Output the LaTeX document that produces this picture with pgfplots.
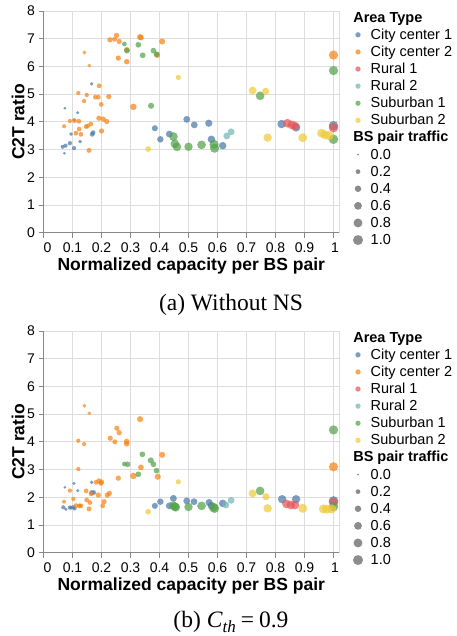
\documentclass[border=0pt]{standalone}
\usepackage{fontspec}
\setmainfont{Liberation Sans}
\newfontfamily\capfont{Liberation Serif}
\usepackage{pgfplots}
\pgfplotsset{compat=1.18}
\usepackage{pgfplotstable}

\definecolor{cA}{HTML}{4C78A8}
\definecolor{cB}{HTML}{F58518}
\definecolor{cC}{HTML}{E45756}
\definecolor{cD}{HTML}{72B7B2}
\definecolor{cE}{HTML}{54A24B}
\definecolor{cF}{HTML}{EECA3B}
\definecolor{gridc}{HTML}{DDDDDD}
\definecolor{axc}{HTML}{888888}
\definecolor{legc}{HTML}{8C8C8C}

% ---- (a) without NS ----
\pgfplotstableread{
x y t
0.066 3.10 0.13
0.076 3.14 0.15
0.091 3.23 0.15
0.105 3.05 0.15
0.072 2.87 0.05
0.095 3.56 0.12
0.126 3.29 0.12
0.168 3.55 0.20
0.171 3.61 0.20
0.074 4.49 0.05
0.118 4.33 0.08
0.105 4.07 0.08
0.166 5.37 0.10
0.384 3.77 0.35
0.403 3.37 0.40
0.434 3.56 0.45
0.494 4.09 0.45
0.520 3.89 0.45
0.570 3.95 0.50
0.579 3.37 0.55
0.618 3.14 0.55
0.821 3.92 0.70
0.871 3.80 0.70
1.000 3.86 0.90
}\aA
\pgfplotstableread{
x y t
0.229 6.96 0.25
0.252 7.12 0.25
0.245 6.98 0.22
0.261 6.90 0.25
0.333 7.06 0.35
0.336 7.04 0.30
0.409 6.90 0.35
0.287 6.60 0.30
0.141 6.50 0.12
0.258 6.30 0.25
0.287 6.17 0.28
0.392 6.41 0.35
0.158 6.03 0.12
0.192 5.30 0.20
0.120 5.04 0.15
0.149 4.97 0.15
0.140 4.75 0.15
0.179 4.89 0.20
0.189 4.89 0.20
0.225 4.91 0.25
0.199 4.63 0.20
0.310 4.54 0.40
0.091 4.03 0.15
0.107 4.04 0.20
0.122 4.02 0.20
0.191 4.13 0.25
0.206 4.10 0.25
0.218 4.01 0.25
0.071 3.84 0.13
0.123 3.74 0.20
0.147 3.83 0.20
0.152 3.85 0.20
0.163 3.92 0.20
0.112 3.59 0.20
0.129 3.55 0.20
0.200 3.67 0.25
0.157 2.97 0.22
1.000 6.41 0.85
}\aB
\pgfplotstableread{
x y t
0.841 3.95 0.75
0.856 3.89 0.75
0.867 3.85 0.75
1.000 3.79 0.90
}\aC
\pgfplotstableread{
x y t
0.632 3.49 0.45
0.647 3.64 0.45
}\aD
\pgfplotstableread{
x y t
0.279 6.81 0.20
0.288 6.57 0.30
0.327 6.78 0.30
0.342 6.40 0.30
0.379 6.57 0.30
0.390 6.44 0.30
0.371 4.58 0.35
0.448 3.47 0.75
0.453 3.21 0.75
0.460 3.10 0.75
0.500 3.10 0.70
0.545 3.17 0.75
0.588 3.19 0.85
0.590 3.05 0.85
0.747 4.94 0.75
1.000 5.85 0.85
1.000 3.37 0.90
}\aE
\pgfplotstableread{
x y t
0.465 5.60 0.25
0.361 3.02 0.30
0.721 5.13 0.60
0.766 5.10 0.50
0.773 3.43 0.70
0.894 3.43 0.80
0.959 3.59 0.80
0.971 3.53 0.80
0.985 3.50 0.80
}\aF

% ---- (b) C_th = 0.9 ----
\pgfplotstableread{
x y t
0.074 2.36 0.05
0.105 2.50 0.08
0.118 2.24 0.08
0.166 2.54 0.10
0.166 2.17 0.20
0.173 2.17 0.20
0.068 1.64 0.13
0.077 1.57 0.10
0.091 1.63 0.15
0.103 1.64 0.15
0.107 1.60 0.15
0.095 1.62 0.12
0.126 1.70 0.12
0.384 1.69 0.35
0.403 1.84 0.40
0.434 1.69 0.45
0.448 1.96 0.45
0.494 1.87 0.45
0.519 1.84 0.45
0.571 1.81 0.50
0.579 1.70 0.55
0.618 1.78 0.55
0.823 1.93 0.70
0.871 1.93 0.70
1.000 1.87 0.90
}\bA
\pgfplotstableread{
x y t
0.141 5.30 0.12
0.158 5.03 0.12
0.120 4.04 0.15
0.140 3.92 0.15
0.120 3.02 0.15
0.333 4.82 0.35
0.253 4.49 0.25
0.261 4.33 0.25
0.230 4.13 0.25
0.246 4.00 0.22
0.287 4.01 0.30
0.287 3.93 0.28
0.409 3.53 0.35
0.336 3.08 0.30
0.258 2.69 0.25
0.310 2.77 0.40
0.394 2.74 0.35
0.181 2.54 0.20
0.191 2.59 0.25
0.198 2.51 0.25
0.200 2.55 0.25
0.091 2.24 0.15
0.147 2.23 0.20
0.164 2.12 0.20
0.189 2.08 0.25
0.220 2.08 0.25
0.227 2.14 0.25
0.071 1.84 0.13
0.103 1.94 0.15
0.149 1.90 0.20
0.160 1.81 0.20
0.209 1.84 0.25
0.204 1.69 0.20
0.123 1.69 0.20
0.112 1.70 0.20
0.129 1.69 0.20
0.157 1.58 0.22
1.000 3.10 0.85
}\bB
\pgfplotstableread{
x y t
0.838 1.76 0.75
0.853 1.72 0.75
0.867 1.72 0.75
1.000 1.82 0.90
}\bC
\pgfplotstableread{
x y t
0.629 1.72 0.45
0.647 1.89 0.45
}\bD
\pgfplotstableread{
x y t
0.279 3.20 0.20
0.290 3.19 0.30
0.327 2.83 0.30
0.341 3.55 0.30
0.379 3.19 0.30
0.390 2.96 0.30
0.370 3.33 0.35
0.448 1.70 0.75
0.453 1.66 0.75
0.456 1.64 0.75
0.500 1.65 0.70
0.545 1.69 0.75
0.586 1.64 0.85
0.590 1.60 0.85
0.747 2.23 0.75
1.000 4.43 0.85
1.000 1.66 0.90
}\bE
\pgfplotstableread{
x y t
0.465 2.56 0.25
0.361 1.48 0.30
0.721 2.14 0.60
0.767 2.02 0.50
0.773 1.60 0.70
0.894 1.60 0.80
0.965 1.58 0.80
0.977 1.57 0.80
0.994 1.58 0.80
}\bF

\newcommand{\LE}[1]{\rule[-3pt]{0pt}{13.5pt}#1}

\pgfplotsset{
  bub/.style={scatter, only marks, mark=*,
    scatter/use mapped color={draw=#1, draw opacity=0, line width=0pt, fill=#1, fill opacity=0.72},
    visualization depends on={sqrt(4+96*\thisrow{t})/2 \as \rr},
    scatter/@pre marker code/.append style={/tikz/mark size=\rr pt}},
  leg/.style n args={2}{legend image code/.code={%
    \path[draw=none, fill=none] (0pt,0pt) rectangle (12pt,0pt);
    \fill[#1, draw=none, overlay] (6pt,0pt) circle (#2);}},
  c2t/.style={
    scale only axis, width=295.5pt, height=221.7pt, anchor=north west,
    xmin=0, xmax=1.019, ymin=0, ymax=8,
    xtick={0,0.1,0.2,0.3,0.4,0.5,0.6,0.7,0.8,0.9,1},
    xticklabels={\makebox[0pt][l]{0},0.1,0.2,0.3,0.4,0.5,0.6,0.7,0.8,0.9,\makebox[11pt][r]{1}},
    ytick={0,1,...,8},
    axis lines=left, axis line style={draw=axc, line width=0.8pt, -},
    axis background/.style={draw=gridc, line width=0.8pt},
    grid=major, major grid style={draw=gridc, line width=0.8pt},
    tick align=outside, major tick length=5pt,
    tick style={draw=axc, line width=0.8pt},
    ticklabel style={font=\fontsize{14}{14}\selectfont},
    xticklabel style={yshift=-1.5pt},
    /pgf/number format/assume math mode=true,
    xlabel={Normalized capacity per BS pair},
    ylabel={C2T ratio},
    label style={font=\bfseries\fontsize{17.5}{17.5}\selectfont},
    xlabel style={at={(axis description cs:0.5,-0.1714)}, anchor=base},
    ylabel style={at={(axis description cs:-0.0643,0.5)}, anchor=base},
    legend style={at={(1,1)}, anchor=north west, xshift=13pt, yshift=-0.7pt,
      draw=none, fill=none, inner sep=0pt, outer sep=0pt,
      row sep=5.1pt, column sep=6.7pt,
      nodes={inner sep=0pt, outer sep=0pt},
      font=\fontsize{14.5}{14.5}\selectfont},
    legend cell align=left,
  },
}

\newcommand{\legendrows}{%
  \addlegendimage{empty legend}
  \addlegendentry{\hspace{-17.4pt}\LE{\textbf{Area Type}}}
  \addlegendimage{leg={cA, fill opacity=0.72}{2.65pt}}\addlegendentry{\LE{City center 1}}
  \addlegendimage{leg={cB, fill opacity=0.72}{2.65pt}}\addlegendentry{\LE{City center 2}}
  \addlegendimage{leg={cC, fill opacity=0.72}{2.65pt}}\addlegendentry{\LE{Rural 1}}
  \addlegendimage{leg={cD, fill opacity=0.72}{2.65pt}}\addlegendentry{\LE{Rural 2}}
  \addlegendimage{leg={cE, fill opacity=0.72}{2.65pt}}\addlegendentry{\LE{Suburban 1}}
  \addlegendimage{leg={cF, fill opacity=0.72}{2.65pt}}\addlegendentry{\LE{Suburban 2}}
  \addlegendimage{empty legend}
  \addlegendentry{\hspace{-17.4pt}\LE{\textbf{BS pair traffic}}}
  \addlegendimage{leg={legc}{1pt}}\addlegendentry{\LE{0.0}}
  \addlegendimage{leg={legc}{2.4pt}}\addlegendentry{\LE{0.2}}
  \addlegendimage{leg={legc}{3.25pt}}\addlegendentry{\LE{0.4}}
  \addlegendimage{leg={legc}{3.92pt}}\addlegendentry{\LE{0.6}}
  \addlegendimage{leg={legc}{4.46pt}}\addlegendentry{\LE{0.8}}
  \addlegendimage{leg={legc}{5pt}}\addlegendentry{\LE{1.0}}
}

\begin{document}
\begin{tikzpicture}
\useasboundingbox (0,0) rectangle (456pt,-636pt);

\begin{axis}[c2t, at={(43.5pt,-11pt)}]
  \legendrows
  \addplot[bub=cA, forget plot] table[x=x, y=y] {\aA};
  \addplot[bub=cB, forget plot] table[x=x, y=y] {\aB};
  \addplot[bub=cC, forget plot] table[x=x, y=y] {\aC};
  \addplot[bub=cD, forget plot] table[x=x, y=y] {\aD};
  \addplot[bub=cE, forget plot] table[x=x, y=y] {\aE};
  \addplot[bub=cF, forget plot] table[x=x, y=y] {\aF};
\end{axis}

\begin{axis}[c2t, at={(43.5pt,-331pt)}]
  \legendrows
  \addplot[bub=cA, forget plot] table[x=x, y=y] {\bA};
  \addplot[bub=cB, forget plot] table[x=x, y=y] {\bB};
  \addplot[bub=cC, forget plot] table[x=x, y=y] {\bC};
  \addplot[bub=cD, forget plot] table[x=x, y=y] {\bD};
  \addplot[bub=cE, forget plot] table[x=x, y=y] {\bE};
  \addplot[bub=cF, forget plot] table[x=x, y=y] {\bF};
\end{axis}

\node[anchor=base, inner sep=0pt, font=\capfont\fontsize{23.5}{23.5}\selectfont]
  at (231pt,-310pt) {(a) Without NS};
\node[anchor=base, inner sep=0pt, font=\capfont\fontsize{23.5}{23.5}\selectfont]
  at (231pt,-627pt) {(b) \textit{C}\raisebox{-5pt}{\fontsize{17}{17}\selectfont\textit{th}}\hspace{5pt}=\hspace{5pt}0.9};
\end{tikzpicture}
\end{document}
